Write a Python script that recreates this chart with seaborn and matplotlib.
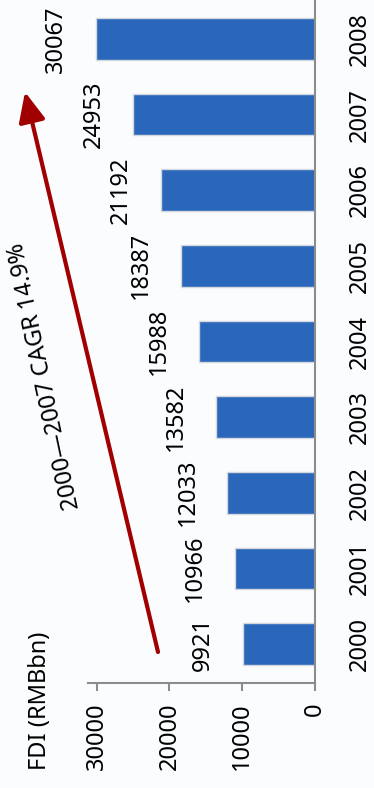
import matplotlib
matplotlib.use('Agg')
import matplotlib.pyplot as plt
import seaborn as sns
import pandas as pd
from matplotlib import font_manager
from matplotlib.patches import FancyArrowPatch, ArrowStyle

# ---- data ----
years = ['2000', '2001', '2002', '2003', '2004', '2005', '2006', '2007', '2008']
fdi = [9921, 10966, 12033, 13582, 15988, 18387, 21192, 24953, 30067]
value_ticks = [0, 10000, 20000, 30000]
value_tick_labels = ['0', '10000', '20000', '30000']
axis_title = 'FDI (RMBbn)'
cagr_text = '2000\u20142007 CAGR 14.9%'

sns.set_theme(style='white')
names = {f.name for f in font_manager.fontManager.ttflist}
if 'Liberation Sans Narrow' in names:
    fam, fs = 'Liberation Sans Narrow', 20.5
else:
    fam, fs = 'Noto Sans', 17.0
plt.rcParams['font.family'] = [fam, 'DejaVu Sans']

W, H = 374, 788
fig = plt.figure(figsize=(W / 100, H / 100), dpi=100)
fig.patch.set_facecolor('#fbfcfe')
ax = fig.add_axes([88 / W, 105 / H, 227 / W, 683 / H])
ax.set_facecolor('none')

df = pd.DataFrame({'year': years, 'fdi': fdi})
order = years[::-1]
sns.barplot(data=df, x='fdi', y='year', order=order, orient='h',
            color='#2a67bb', saturation=1, width=0.55,
            edgecolor='#d4d8de', linewidth=1, ax=ax)

ax.set_xlim(31200, 0)
ax.set_ylim(8.516, -0.516)
ax.set_xlabel('')
ax.set_ylabel('')

# category axis on the right
ax.yaxis.tick_right()
ax.tick_params(axis='y', length=0, pad=23.8, labelsize=fs, colors='black')
for lbl in ax.get_yticklabels():
    lbl.set_rotation(90)
    lbl.set_ha('left')
    lbl.set_va('center')

# value axis at the bottom
ax.set_xticks(value_ticks)
ax.set_xticklabels(value_tick_labels)
ax.tick_params(axis='x', bottom=True, length=5.8, width=1.5, color='#8c8c8c',
               pad=8.6, labelsize=fs, labelcolor='black')
for lbl in ax.get_xticklabels():
    lbl.set_rotation(90)
    lbl.set_ha('center')
    lbl.set_va('top')

for s in ['left', 'top']:
    ax.spines[s].set_visible(False)
for s in ['right', 'bottom']:
    ax.spines[s].set_visible(True)
    ax.spines[s].set_color('#8c8c8c')
    ax.spines[s].set_linewidth(1.5)

# value labels
val = dict(zip(years, fdi))
for i, y in enumerate(order):
    v = val[y]
    ax.annotate(f'{v}', xy=(v, i), xytext=(-28, 0), textcoords='offset pixels',
                rotation=90, ha='right', va='center', fontsize=fs, color='black')

# axis title
fig.text(40 / W, 1 - 701 / H, axis_title, rotation=90, ha='center', va='center',
         fontsize=fs, color='black')

# CAGR arrow
arrow = FancyArrowPatch((158 / W, 1 - 652 / H), (25 / W, 1 - 92 / H),
                        transform=fig.transFigure,
                        arrowstyle=ArrowStyle('-|>', head_length=1.0, head_width=0.45),
                        mutation_scale=18, lw=3, color='#a00000',
                        shrinkA=0, shrinkB=0)
fig.add_artist(arrow)
fig.text(45 / W, 1 - 376 / H, cagr_text, rotation=102, rotation_mode='anchor',
         ha='center', va='center', fontsize=fs, color='black')

fig.savefig('out.png', dpi=100, facecolor=fig.get_facecolor())
